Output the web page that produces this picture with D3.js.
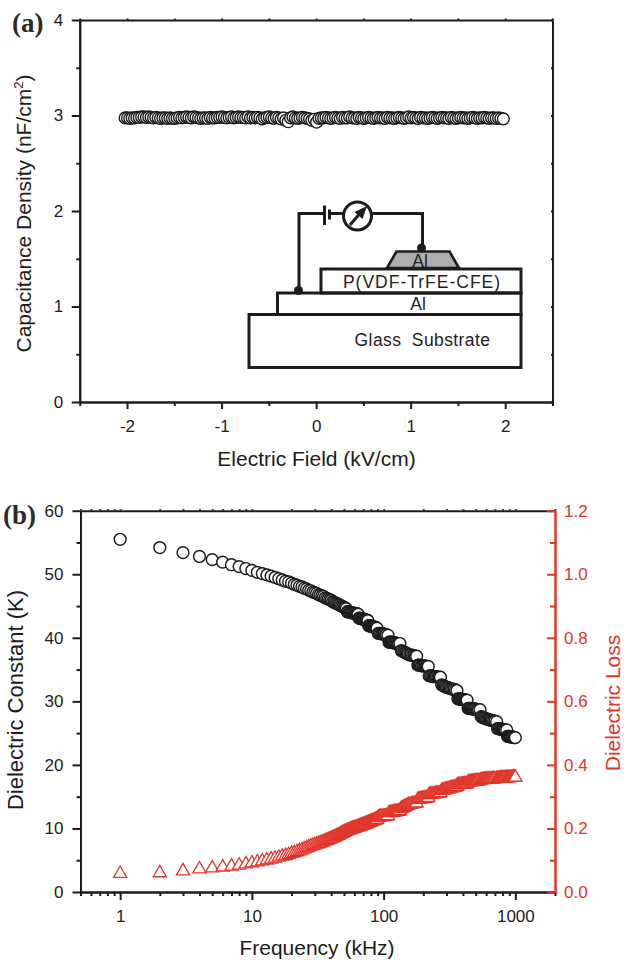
<!DOCTYPE html>
<html>
<head>
<meta charset="utf-8">
<script src="https://cdn.jsdelivr.net/npm/d3@7"></script>
<style>
body { margin: 0; background: #fff; }
text { font-family: "Liberation Sans", Arial, sans-serif; }
text.panel { font-family: "Liberation Serif", serif; font-weight: bold; }
</style>
</head>
<body>
<div class="chart"></div>
<script>
// panel (a): capacitance density against electric field
const FIELD = [
  -2.02,-1.995,-1.97,-1.945,-1.92,-1.895,-1.87,-1.845,
  -1.82,-1.795,-1.77,-1.745,-1.72,-1.695,-1.67,-1.645,
  -1.62,-1.595,-1.57,-1.545,-1.52,-1.495,-1.47,-1.445,
  -1.42,-1.395,-1.37,-1.345,-1.32,-1.295,-1.27,-1.245,
  -1.22,-1.195,-1.17,-1.145,-1.12,-1.095,-1.07,-1.045,
  -1.02,-0.995,-0.97,-0.945,-0.92,-0.895,-0.87,-0.845,
  -0.82,-0.795,-0.77,-0.745,-0.72,-0.695,-0.67,-0.645,
  -0.62,-0.595,-0.57,-0.545,-0.52,-0.495,-0.47,-0.445,
  -0.42,-0.395,-0.37,-0.345,-0.32,-0.295,-0.27,-0.245,
  -0.22,-0.195,-0.17,-0.145,-0.12,-0.095,-0.07,-0.045,
  -0.02,0.005,0.03,0.055,0.08,0.105,0.13,0.155,
  0.18,0.205,0.23,0.255,0.28,0.305,0.33,0.355,
  0.38,0.405,0.43,0.455,0.48,0.505,0.53,0.555,
  0.58,0.605,0.63,0.655,0.68,0.705,0.73,0.755,
  0.78,0.805,0.83,0.855,0.88,0.905,0.93,0.955,
  0.98,1.005,1.03,1.055,1.08,1.105,1.13,1.155,
  1.18,1.205,1.23,1.255,1.28,1.305,1.33,1.355,
  1.38,1.405,1.43,1.455,1.48,1.505,1.53,1.555,
  1.58,1.605,1.63,1.655,1.68,1.705,1.73,1.755,
  1.78,1.805,1.83,1.855,1.88,1.905,1.93,1.955,
  1.98];
const CAPACITANCE = [
  2.975,2.975,2.97,2.975,2.975,2.98,2.98,2.985,
  2.985,2.98,2.985,2.98,2.975,2.98,2.975,2.97,
  2.975,2.975,2.97,2.975,2.97,2.97,2.975,2.98,
  2.975,2.98,2.985,2.98,2.975,2.985,2.98,2.975,
  2.97,2.975,2.975,2.97,2.98,2.975,2.975,2.98,
  2.98,2.985,2.98,2.975,2.98,2.985,2.975,2.98,
  2.985,2.98,2.98,2.975,2.985,2.975,2.98,2.975,
  2.98,2.975,2.965,2.975,2.98,2.985,2.975,2.97,
  2.98,2.975,2.965,2.975,2.95,2.935,2.975,2.985,
  2.975,2.97,2.975,2.98,2.975,2.97,2.965,2.95,
  2.96,2.93,2.97,2.975,2.975,2.98,2.975,2.97,
  2.975,2.98,2.975,2.97,2.98,2.975,2.975,2.985,
  2.975,2.975,2.97,2.98,2.975,2.97,2.975,2.98,
  2.975,2.97,2.975,2.98,2.975,2.975,2.97,2.98,
  2.975,2.975,2.97,2.975,2.98,2.975,2.97,2.975,
  2.985,2.975,2.98,2.975,2.97,2.98,2.975,2.975,
  2.97,2.975,2.98,2.975,2.97,2.975,2.98,2.975,
  2.975,2.97,2.98,2.975,2.97,2.975,2.98,2.975,
  2.975,2.97,2.975,2.98,2.975,2.97,2.975,2.975,
  2.98,2.975,2.97,2.975,2.975,2.97,2.975,2.97,
  2.965];

// panel (b): dielectric constant and loss against frequency
const FREQ = [
  1,2,3,4,5,6,7,8,9,10,
  11,12,13,14,15,16,17,18,19,20,
  21,22,23,24,25,26,27,28,29,30,
  31,32,33,34,35,36,37,38,39,40,
  41,42,43,44,45,46,47,48,49,50,51,52,
  53,54,55,56,57,58,59,60,61,62,63,64,
  65,66,67,68,69,70,71,72,73,74,75,76,
  77,78,79,80,81,82,83,84,85,86,87,88,89,
  91,93,95,97,99,101,103,105,108,
  110,112,114,116,118,120,122,124,126,128,130,133,
  136,139,142,145,148,151,154,158,162,166,170,174,178,
  182,186,190,194,198,202,206,210,214,218,
  222,227,232,237,242,247,252,258,264,270,
  276,282,288,294,300,307,314,321,328,335,343,351,360,
  366,373,380,387,394,401,408,415,422,430,
  438,446,454,462,470,479,488,497,506,515,525,540,
  550,561,572,583,594,606,618,630,643,656,670,684,700,721,
  732,745,758,771,784,797,810,824,838,860,
  872,885,898,912,926,940,955,970,985,1000];
const CONSTANT_K = [
  55.5,54.2,53.4,52.8,52.3,51.9,51.5,51.2,50.9,50.6,
  50.3,50.1,49.9,49.7,49.5,49.3,49.1,48.9,48.8,48.6,
  48.4,48.3,48.1,48.0,47.8,47.7,47.5,47.4,47.2,47.1,
  47.0,46.8,46.7,46.6,46.5,46.3,46.2,46.1,46.0,45.9,
  45.7,45.6,45.5,45.4,45.3,45.2,45.1,45.0,44.9,44.8,44.7,44.6,
  44.1,44.1,44.0,44.0,44.0,43.9,43.9,43.9,43.8,43.8,43.8,43.7,
  43.1,43.1,43.0,43.0,43.0,42.9,42.9,42.9,42.8,42.8,42.8,42.7,
  41.9,41.9,41.9,41.8,41.8,41.8,41.7,41.7,41.7,41.6,41.6,41.6,41.5,
  40.7,40.7,40.7,40.6,40.6,40.6,40.5,40.5,40.4,
  39.3,39.3,39.3,39.3,39.2,39.2,39.2,39.2,39.1,39.1,39.1,39.1,
  38.0,37.9,37.8,37.7,37.6,37.5,37.4,37.3,37.3,37.2,37.2,37.1,37.1,
  35.7,35.7,35.7,35.6,35.6,35.6,35.6,35.5,35.5,35.5,
  34.0,34.0,34.0,33.9,33.9,33.9,33.9,33.8,33.8,33.8,
  32.6,32.5,32.4,32.3,32.2,32.2,32.1,32.0,32.0,31.9,31.9,31.8,31.7,
  30.4,30.4,30.4,30.3,30.3,30.3,30.3,30.2,30.2,30.2,
  28.9,28.9,28.9,28.9,28.8,28.8,28.8,28.8,28.7,28.7,28.7,28.7,
  27.6,27.5,27.4,27.4,27.3,27.2,27.2,27.1,27.1,27.0,27.0,26.9,26.9,26.8,
  25.7,25.7,25.7,25.6,25.6,25.6,25.6,25.5,25.5,25.5,
  24.5,24.5,24.5,24.4,24.4,24.4,24.4,24.3,24.3,24.3];
const LOSS = [
  .064,.066,.072,.078,.081,.084,.087,.090,.094,.097,
  .100,.103,.106,.109,.112,.115,.118,.120,.123,.127,
  .129,.132,.135,.138,.141,.144,.147,.150,.152,.154,
  .156,.158,.160,.162,.164,.166,.168,.170,.172,.174,
  .176,.178,.180,.182,.184,.186,.188,.190,.192,.194,.196,.197,
  .199,.200,.201,.203,.204,.205,.206,.207,.208,.209,.210,.211,
  .212,.213,.214,.215,.216,.217,.218,.219,.220,.221,.222,.223,
  .224,.225,.226,.227,.228,.229,.230,.230,.231,.232,.233,.234,.235,
  .241,.242,.243,.243,.244,.244,.245,.245,.246,
  .255,.255,.256,.256,.257,.257,.258,.258,.259,.259,.260,.261,
  .268,.270,.272,.274,.276,.278,.280,.281,.282,.283,.284,.285,.286,
  .297,.298,.298,.299,.300,.300,.301,.302,.302,.303,
  .312,.313,.313,.314,.315,.315,.316,.316,.317,.318,
  .325,.326,.327,.328,.329,.330,.331,.332,.333,.334,.335,.336,.338,
  .343,.343,.344,.344,.345,.345,.345,.346,.346,.346,
  .352,.352,.353,.353,.353,.354,.354,.355,.355,.355,.356,.356,
  .359,.359,.359,.360,.360,.360,.360,.361,.361,.361,.361,.362,.362,.362,
  .363,.363,.363,.364,.364,.364,.364,.364,.365,.365,
  .365,.365,.365,.366,.366,.366,.366,.367,.367,.367];

const TICKS_A_X = [-2, -1, 0, 1, 2];
const MINOR_A_X = [-2.5, -1.5, -0.5, 0.5, 1.5, 2.5];
const TICKS_A_Y = [0, 1, 2, 3, 4];
const MINOR_A_Y = [0.5, 1.5, 2.5, 3.5];
const TICKS_B_X = [1, 10, 100, 1000];
const MINOR_B_X = [0.5, 0.6, 0.7, 0.8, 0.9, 2, 3, 4, 5, 6, 7, 8, 9, 20, 30, 40, 50, 60, 70, 80, 90,
  200, 300, 400, 500, 600, 700, 800, 900, 2000];
const TICKS_K = [0, 10, 20, 30, 40, 50, 60];
const MINOR_K = [5, 15, 25, 35, 45, 55];
const TICKS_LOSS = [0, 0.2, 0.4, 0.6, 0.8, 1.0, 1.2];
const MINOR_LOSS = [0.1, 0.3, 0.5, 0.7, 0.9, 1.1];

const FRAME_WIDTH = 624;
const FRAME_HEIGHT = 960;
const INK = "#1c1c1c";
const RED = "#e1352a";
const A = {left: 79.75, right: 552.5, top: 20, bottom: 402};
const B = {left: 80.5, right: 555, top: 510.7, bottom: 892};

const FRAME = d3.select(".chart")
                .append("svg")
                .attr("width", FRAME_WIDTH)
                .attr("height", FRAME_HEIGHT)
                .style("display", "block");

const X_A = d3.scaleLinear().domain([-2.5, 2.5]).range([A.left, A.right]);
const Y_A = d3.scaleLinear().domain([0, 4]).range([A.bottom, A.top]);
const X_B = d3.scaleLog().domain([0.5, 2000]).range([B.left, B.right]);
const Y_K = d3.scaleLinear().domain([0, 60]).range([B.bottom, B.top]);
const Y_LOSS = d3.scaleLinear().domain([0, 1.2]).range([B.bottom, B.top]);

// draws one axis, with its size and colour, and returns the group
function drawAxis(axis, tx, ty, color, width) {
    const g = FRAME.append("g")
        .attr("transform", "translate(" + tx + "," + ty + ")")
        .call(axis);
    g.selectAll("path, line").attr("stroke", color).attr("stroke-width", width);
    g.selectAll("text").attr("fill", color).attr("font-size", "17px");
    return g;
}

function noLabels(axis, values, size) {
    return axis.tickValues(values).tickSize(size).tickSizeOuter(0).tickFormat("");
}

function drawTitle(label, x, y, color, rotate, size) {
    return FRAME.append("text")
        .attr("transform", "translate(" + x + "," + y + ")" + (rotate ? " rotate(-90)" : ""))
        .attr("text-anchor", "middle")
        .attr("font-size", size + "px")
        .attr("fill", color)
        .text(label);
}

FRAME.append("g").selectAll("circle")
    .data(FIELD)
    .enter()
    .append("circle")
        .attr("cx", (d) => {return X_A(d)})
        .attr("cy", (d, i) => {return Y_A(CAPACITANCE[i])})
        .attr("r", 5.9)
        .attr("fill", "#fff")
        .attr("stroke", INK)
        .attr("stroke-width", 1.4);

// ---- panel (a) axes
drawAxis(noLabels(d3.axisBottom(X_A), MINOR_A_X, 4), 0, A.bottom, INK, 2);
drawAxis(d3.axisBottom(X_A).tickValues(TICKS_A_X).tickFormat((d) => {return String(d)}).tickSize(7).tickSizeOuter(0).tickPadding(11), 0, A.bottom, INK, 2);
drawAxis(noLabels(d3.axisLeft(Y_A), MINOR_A_Y, 3.5), A.left, 0, INK, 2);
drawAxis(d3.axisLeft(Y_A).tickValues(TICKS_A_Y).tickFormat(d3.format("d")).tickSize(8).tickSizeOuter(0).tickPadding(8.5), A.left, 0, INK, 2);
drawAxis(noLabels(d3.axisTop(X_A), TICKS_A_X.concat(MINOR_A_X), 1.5), 0, A.top, INK, 2);
drawAxis(noLabels(d3.axisLeft(Y_A), TICKS_A_Y.concat(MINOR_A_Y), 1.5), A.right, 0, INK, 2);

drawTitle("Electric Field (kV/cm)", 316.5, 466, INK, false, 21);
const TITLE_A = drawTitle("Capacitance Density (nF/cm", 31, 213.5, INK, true, 21);
TITLE_A.append("tspan").attr("dy", -8).attr("font-size", "13px").text("2");
TITLE_A.append("tspan").attr("dy", 8).text(")");

FRAME.append("text").attr("class", "panel").attr("x", 12).attr("y", 31.5)
    .attr("font-size", "27px").attr("fill", "#2a2a2a").text("(a)");

// ---- device sketch inside panel (a)
const SKETCH = FRAME.append("g").attr("fill", "none").attr("stroke", INK).attr("stroke-width", 3);
SKETCH.append("path").attr("d", "M299 290V213.5H323M330 213.5H344M372 213.5H422.5V247");
SKETCH.append("path").attr("d", "M324.5 205.5V225M329.5 209.5V219.5");
SKETCH.append("circle").attr("cx", 357.5).attr("cy", 216).attr("r", 14);
SKETCH.append("path").attr("d", "M350 225L362 211");
SKETCH.append("path").attr("d", "M367 206L354.5 212L362.5 219Z").attr("fill", INK).attr("stroke", "none");
SKETCH.append("rect").attr("x", 249).attr("y", 314.5).attr("width", 272).attr("height", 53);
SKETCH.append("rect").attr("x", 277.5).attr("y", 293).attr("width", 243.5).attr("height", 21.5);
SKETCH.append("rect").attr("x", 321).attr("y", 269).attr("width", 200).attr("height", 24);
SKETCH.append("path").attr("d", "M387 268L396.5 251.5H449.5L459 268Z").attr("fill", "#adadad").attr("stroke-width", 2.6);
SKETCH.append("circle").attr("cx", 421.5).attr("cy", 248).attr("r", 4.5).attr("fill", INK).attr("stroke", "none");
SKETCH.append("circle").attr("cx", 298.5).attr("cy", 290.5).attr("r", 4.5).attr("fill", INK).attr("stroke", "none");

const SKETCH_LABELS = [
    {label: "Al", x: 420, y: 266.5, spacing: 0},
    {label: "P(VDF-TrFE-CFE)", x: 422, y: 288, spacing: 1},
    {label: "Al", x: 418, y: 310, spacing: 0},
    {label: "Glass  Substrate", x: 422.5, y: 345.5, spacing: 0.4}
];
FRAME.append("g").selectAll("text")
    .data(SKETCH_LABELS)
    .enter()
    .append("text")
        .attr("x", (d) => {return d.x})
        .attr("y", (d) => {return d.y})
        .attr("text-anchor", "middle")
        .attr("font-size", "17.5px")
        .attr("letter-spacing", (d) => {return d.spacing})
        .style("white-space", "pre")
        .attr("fill", "#222")
        .text((d) => {return d.label});

// ---- panel (b) marks
FRAME.append("g").selectAll("circle")
    .data(FREQ)
    .enter()
    .append("circle")
        .attr("cx", (d) => {return X_B(d)})
        .attr("cy", (d, i) => {return Y_K(CONSTANT_K[i])})
        .attr("r", 5.9)
        .attr("fill", "#fff")
        .attr("stroke", INK)
        .attr("stroke-width", 1.45);

// triangle centred on its bounding box
const TRIANGLE = {draw(context) {
    context.moveTo(0, -5.7);
    context.lineTo(6.6, 5.7);
    context.lineTo(-6.6, 5.7);
    context.closePath();
}};
FRAME.append("g").selectAll("path")
    .data(FREQ)
    .enter()
    .append("path")
        .attr("d", d3.symbol().type(TRIANGLE))
        .attr("transform", (d, i) => {return "translate(" + X_B(d) + "," + Y_LOSS(LOSS[i]) + ")"})
        .attr("fill", "#fff")
        .attr("stroke", RED)
        .attr("stroke-width", 1.3);

// ---- panel (b) axes
drawAxis(noLabels(d3.axisBottom(X_B), MINOR_B_X, 4), 0, B.bottom, INK, 2);
drawAxis(d3.axisBottom(X_B).tickValues(TICKS_B_X).tickFormat(d3.format("d")).tickSize(8).tickSizeOuter(0).tickPadding(10), 0, B.bottom, INK, 2);
drawAxis(noLabels(d3.axisTop(X_B), TICKS_B_X.concat(MINOR_B_X), 1.5), 0, B.top, INK, 2);
drawAxis(noLabels(d3.axisLeft(Y_K), MINOR_K, 4), B.left, 0, INK, 2);
drawAxis(d3.axisLeft(Y_K).tickValues(TICKS_K).tickFormat(d3.format("d")).tickSize(8).tickSizeOuter(0).tickPadding(9), B.left, 0, INK, 2);
drawAxis(noLabels(d3.axisRight(Y_LOSS), MINOR_LOSS, -5), B.right, 0, RED, 2);
drawAxis(d3.axisRight(Y_LOSS).tickValues(TICKS_LOSS).tickFormat(d3.format(".1f")).tickSize(-8).tickSizeOuter(0).tickPadding(9), B.right, 0, RED, 2);

drawTitle("Frequency (kHz)", 317, 955, INK, false, 21);
drawTitle("Dielectric Constant (K)", 23, 700, INK, true, 22);
drawTitle("Dielectric Loss", 619.5, 703, RED, true, 21);

FRAME.append("text").attr("class", "panel").attr("x", 3).attr("y", 524)
    .attr("font-size", "27px").attr("fill", "#2a2a2a").text("(b)");
</script>
</body>
</html>
